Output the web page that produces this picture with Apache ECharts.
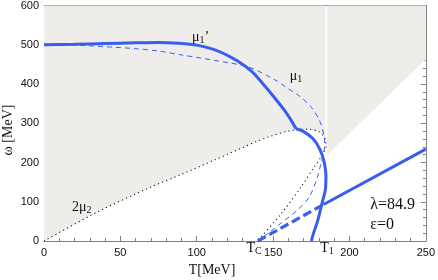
<!DOCTYPE html>
<html><head><meta charset="utf-8">
<script src="https://cdn.jsdelivr.net/npm/echarts@6/dist/echarts.min.js"></script>
<style>html,body{margin:0;padding:0;background:#fff}#c{width:438px;height:280px}</style>
</head><body><div id="c"></div>
<script>
// ---- data (T [MeV], omega [MeV]) ----
var xTicks = [0, 50, 100, 150, 200, 250];
var yTicks = [0, 100, 200, 300, 400, 500, 600];
var mu1primeUpper = [[0,500],[20,501],[40,503],[60,505],[75,506],[88,504],[100,499],[114,484],[127,458],[136,432],[145,393],[152,360],[158,330],[162,306],[165,286]];
var mu1primeLower = [[165,286],[169.5,280],[176,261],[180.3,236],[183.1,206],[184.6,164],[184.2,130],[182,96],[179.3,53],[176.5,20],[175,0]];
var mu1 = [[0,500],[20,499],[40,495],[60,490],[75,484],[90,474],[112,460],[134,443],[151,411],[160,388],[168,367],[175,341],[180.3,308],[183.3,270],[183.7,245],[183,222],[181.5,200],[179,163],[173.8,113],[166,79],[155,45],[146.8,20],[141,3],[140,0]];
var twoMu2 = [[0,0],[36,76],[68,134],[90,170],[112,207],[140,255],[147,265],[160,280],[172.7,285],[180.3,278],[184,261],[184.6,240],[183.2,226],[181.4,214],[177,189],[168.4,138],[155.4,70],[140.3,2],[140,0]];
var mixedDashed = [[140,0],[183,93]];
var mixedSolid = [[183,93],[250,234]];
var shadeLeft = [[0,600],[0,0],[36,76],[68,134],[90,170],[112,207],[140,255],[147,265],[160,280],[172.7,285],[180.3,278],[184.2,258],[184.2,600]];
var shadeRight = [[185.4,600],[185.4,219],[250,463],[250,600]];

var BLUE = '#3a5cf0';
var AX = '#808080';
var chart = echarts.init(document.getElementById('c'));

function axisX(pos, labels){
  return {type:'value', position:pos, min:0, max:250, interval:50,
    axisLine:{show:true, onZero:false, lineStyle:{color:AX, width:1}},
    axisTick:{show:true, inside:true, length:5, lineStyle:{color:AX}},
    minorTick:{show:true, splitNumber:5, length:3, lineStyle:{color:AX}},
    splitLine:{show:false},
    axisLabel:{show:labels, margin:6, fontSize:11, color:'#111', fontFamily:'Liberation Sans'}};
}
function axisY(pos, labels){
  return {type:'value', position:pos, min:0, max:600, interval:100,
    axisLine:{show:true, onZero:false, lineStyle:{color:AX, width:1}},
    axisTick:{show:true, inside:true, length:5, lineStyle:{color:AX}},
    minorTick:{show:true, splitNumber:5, length:3, lineStyle:{color:AX}},
    splitLine:{show:false},
    axisLabel:{show:labels, margin:5, fontSize:11, color:'#111', fontFamily:'Liberation Sans'}};
}

var polys = [shadeLeft, shadeRight];
chart.setOption({
  animation:false,
  grid:{left:44, right:9, top:5, bottom:39},
  xAxis:[axisX('bottom', true), axisX('top', false)],
  yAxis:[axisY('left', true), axisY('right', false)],
  series:[
    {type:'custom', z:1, silent:true, data:[0,1],
     renderItem:function(params, api){
       var pts = polys[params.dataIndex].map(function(p){return api.coord(p);});
       return {type:'polygon', shape:{points:pts}, style:{fill:'#eeede9', stroke:null}};
     }},
    {type:'line', data:twoMu2, showSymbol:false, z:3, smooth:0.3,
     lineStyle:{color:'#222', width:1.1, type:[1.2,3.2]}},
    {type:'line', data:mu1, showSymbol:false, z:4, smooth:0.3,
     lineStyle:{color:BLUE, width:1, type:[5,4]}},
    {type:'line', data:mu1primeUpper, showSymbol:false, z:5, smooth:0.3,
     lineStyle:{color:BLUE, width:3}},
    {type:'line', data:mu1primeLower, showSymbol:false, z:5, smooth:0.3,
     lineStyle:{color:BLUE, width:3}},
    {type:'line', data:mixedDashed, showSymbol:false, z:5,
     lineStyle:{color:BLUE, width:3.2, type:[9,4]}},
    {type:'line', data:mixedSolid, showSymbol:false, z:5,
     lineStyle:{color:BLUE, width:3}}
  ]
});

function px(p){ return chart.convertToPixel({xAxisIndex:0, yAxisIndex:0}, p); }
var serif = 'Liberation Serif';
function txt(p, text, size, align, rich){
  var q = px(p);
  return {type:'text', x:q[0], y:q[1], z:10,
    style:{text:text, fill:'#111', fontSize:size, fontFamily:serif, align:align||'center', verticalAlign:'middle', rich:rich||{}}};
}
var r = {s:{fontSize:10, fontFamily:serif, fill:'#111', padding:[6,0,0,0]}};
chart.setOption({graphic:[
  txt([102.6,519], 'μ{s|1}’', 14, 'center', r),
  txt([165,420], 'μ{s|1}', 14, 'center', r),
  txt([24.7,86], '2μ{s|2}', 14, 'center', r),
  txt([213.6,92], 'λ=84.9', 16, 'left'),
  txt([213.6,41], 'ε=0', 16, 'left'),
  {type:'text', x:254, y:248, z:10, style:{text:'T{s|C}', fill:'#111', fontSize:14, fontFamily:serif, align:'center', verticalAlign:'middle', rich:r}},
  {type:'text', x:327, y:248, z:10, style:{text:'T{s|1}', fill:'#111', fontSize:14, fontFamily:serif, align:'center', verticalAlign:'middle', rich:r}},
  {type:'text', x:212, y:270, z:10, style:{text:'T[MeV]', fill:'#111', fontSize:14, fontFamily:serif, align:'center', verticalAlign:'middle'}},
  {type:'text', x:8, y:130, rotation:Math.PI/2, z:10, style:{text:'ω [MeV]', fill:'#111', fontSize:14, fontFamily:serif, align:'center', verticalAlign:'middle'}}
]});
</script></body></html>
